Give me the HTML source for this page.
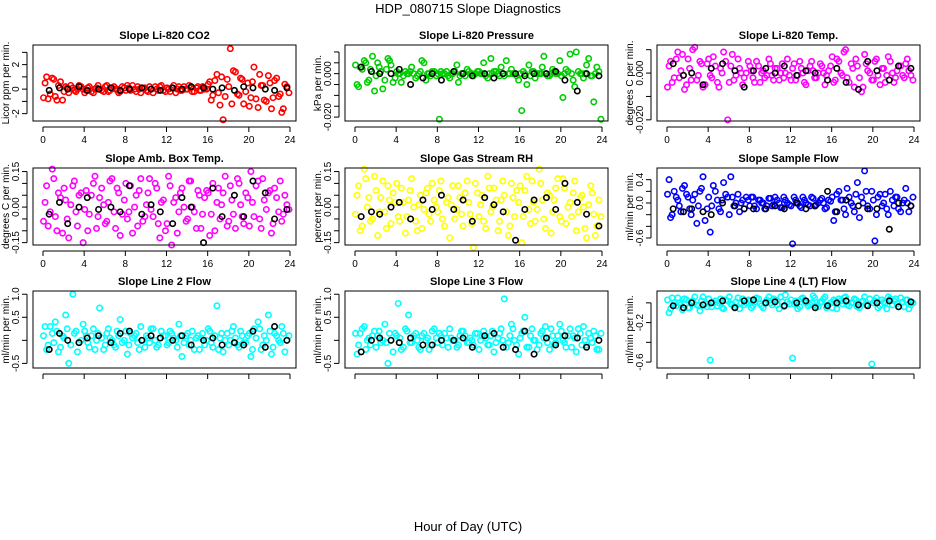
<!DOCTYPE html>
<html><head><meta charset="utf-8"><style>
body{margin:0;background:#fff;}
svg{display:block;font-family:"Liberation Sans",sans-serif;}
</style></head><body>
<svg id="chart" width="936" height="540" viewBox="0 0 936 540">
<text x="468" y="13" text-anchor="middle" font-size="13">HDP_080715  Slope Diagnostics</text>
<text x="468" y="531" text-anchor="middle" font-size="13">Hour of Day (UTC)</text>
</svg>
<script>
// shared timestamps (hours UTC)
const hoursC=[0.2,0.5,0.9,1.2,1.5,1.9,2.2,2.5,2.9,3.2,3.5,3.9,4.2,4.5,4.9,5.2,5.5,5.9,6.2,6.5,6.9,7.2,7.5,7.9,8.2,8.5,8.9,9.2,9.5,9.9,10.2,10.5,10.9,11.2,11.5,11.9,12.2,12.5,12.9,13.2,13.5,13.9,14.2,14.5,14.9,15.2,15.5,15.9,16.2,16.5,16.9,17.2,17.5,17.9,18.2,18.5,18.9,19.2,19.5,19.9,20.2,20.5,20.9,21.2,21.5,21.9,22.2,22.5,22.9,23.2,23.5,23.9];
const hoursC2=[0.05,0.35,0.7,1.05,1.35,1.7,2.05,2.35,2.7,3.05,3.35,3.7,4.05,4.35,4.7,5.05,5.35,5.7,6.05,6.35,6.7,7.05,7.35,7.7,8.05,8.35,8.7,9.05,9.35,9.7,10.05,10.35,10.7,11.05,11.35,11.7,12.05,12.35,12.7,13.05,13.35,13.7,14.05,14.35,14.7,15.05,15.35,15.7,16.05,16.35,16.7,17.05,17.35,17.7,18.05,18.35,18.7,19.05,19.35,19.7,20.05,20.35,20.7,21.05,21.35,21.7,22.05,22.35,22.7,23.05,23.35,23.7];
const hoursK=[0.6,1.6,2.4,3.5,4.3,5.4,6.6,7.5,8.4,9.6,10.5,11.4,12.6,13.5,14.4,15.6,16.5,17.4,18.6,19.5,20.4,21.6,22.5,23.7];
const xTicks=[0,4,8,12,16,20,24];
// series values (integer units; see unit per panel)
const co2C=[5,-8,9,-6,3,-9,2,-3,1,-2,3,0,-1,2,-3,1,0,-2,3,-1,2,0,-2,1,3,-1,0,2,-3,1,-2,0,2,-1,3,-2,0,1,-3,2,-1,0,3,-2,1,-1,2,0,6,-5,12,-13,-25,8,33,15,-4,9,-12,5,-7,18,-15,3,-9,11,-16,7,-6,-19,4,-3];
const co2C2=[-7,10,-4,8,-9,6,-2,1,3,-1,0,2,-3,1,-2,0,3,-1,2,-2,1,0,-3,2,-1,1,3,-2,0,1,-1,2,-3,0,2,-1,1,-2,3,0,-1,2,0,1,-2,2,-1,0,4,-9,7,-3,10,-6,2,-12,14,-5,8,-2,-14,6,-8,12,3,-10,5,-7,9,-4,-16,2];
const co2K=[-1,1,0,2,-1,0,1,-1,0,1,0,-1,1,0,2,1,0,1,-1,2,1,0,-1,1];
const presC=[-5,3,6,-4,2,-8,5,1,-3,7,4,-2,0,-4,1,0,3,-2,0,6,-3,0,1,-1,-21,0,1,-2,0,4,-1,0,2,0,-1,1,0,5,-2,7,1,0,3,-1,0,2,0,-3,-17,0,4,1,-2,0,3,0,-1,2,0,6,-11,2,9,-3,10,0,-2,4,-1,-13,3,-21];
const presC2=[4,-6,2,5,-3,8,-1,3,-7,2,6,-4,1,0,-1,0,1,0,-1,1,5,0,-1,1,0,1,0,-1,0,1,-4,0,-1,1,0,0,1,0,-1,0,0,1,-1,0,6,0,0,-1,0,1,-5,-1,1,0,0,8,-1,0,1,0,-1,0,1,0,-6,1,0,0,7,-1,0,1];
const presK=[3,1,0,0,2,-5,-2,0,-3,1,0,-1,0,-2,0,0,-1,0,0,1,-3,-8,0,-1];
const tempC=[3,-4,6,-2,8,-5,2,10,-3,5,-6,4,-1,7,-4,2,9,-20,3,-3,6,0,-2,5,1,-4,3,0,-2,6,-1,2,-3,4,0,-1,2,-3,5,0,-5,3,1,-2,4,0,-1,3,-4,6,0,9,-2,4,-6,3,-8,8,1,-3,5,-1,2,-4,7,0,-2,3,-1,4,1,-3];
const tempC2=[-6,5,-2,9,1,-7,6,-3,11,-1,4,-5,6,-2,3,-6,0,5,-4,8,-1,2,-5,0,3,-2,5,-4,1,-1,4,-3,2,0,-2,6,-3,4,-1,2,-4,1,5,-2,0,3,-5,1,7,-3,5,-1,10,-4,2,6,-2,-6,4,0,-3,6,-5,2,-1,5,-4,1,3,-2,6,-1];
const tempK=[4,-1,0,-5,2,4,1,-6,1,2,0,3,-1,1,0,-3,2,-4,-7,5,1,-3,3,2];
const ambC=[2,-8,16,-4,6,-11,3,-13,9,-2,5,-15,7,-3,10,-9,4,1,-6,11,-2,8,-12,3,-5,9,0,-8,12,-4,6,-1,10,-7,2,-10,13,-16,4,-2,8,-6,11,0,-9,5,-3,7,-12,10,2,-5,6,-8,9,-3,12,1,-7,4,15,-4,11,-9,3,6,-11,8,-2,-6,5,-1];
const ambC2=[-6,9,-2,12,-10,4,8,-5,1,11,-8,6,-1,-10,5,13,-4,8,-7,2,12,-9,6,-3,10,-2,-11,5,7,-6,1,12,-4,8,-13,3,-7,9,2,-11,6,0,-5,11,-2,7,-9,4,6,-3,-10,8,1,13,-6,3,-9,10,-4,6,-8,2,9,-5,12,-1,7,-7,4,11,-3,1];
const ambK=[-3,2,-7,0,4,-1,0,-2,9,-3,1,-2,-7,4,0,-15,8,-4,5,-4,11,6,-5,-1];
const rhC=[5,-10,16,0,-6,13,-12,4,-2,9,-7,2,-4,8,-11,3,12,-6,1,-9,6,-3,10,0,7,-5,2,-13,9,-1,4,-8,11,-3,-17,6,1,-6,13,-2,8,-10,3,5,-12,10,-4,2,-15,7,-1,11,-6,16,3,-9,5,-2,8,-4,12,-7,2,6,-10,4,0,-13,9,-3,-8,-4];
const rhC2=[-3,9,-8,12,4,-5,7,-2,11,-9,3,6,10,-6,2,-4,7,0,-10,5,-1,8,-6,3,-2,11,-8,4,1,-5,9,-3,6,2,-7,10,-4,5,-9,8,0,3,-6,11,-2,-8,4,7,9,-4,13,-7,2,-1,10,-5,6,-11,3,12,-6,8,0,-4,11,-2,5,-9,1,6,-12,3];
const rhK=[-4,-2,-3,0,2,-5,3,-1,5,-1,3,-6,4,1,-2,-14,-1,3,4,-1,10,2,-3,-8];
const flowC=[40,-20,10,-5,25,15,-10,5,-35,20,45,-10,-50,30,5,-15,35,10,45,-5,15,0,-10,5,10,-5,5,0,-10,8,-5,10,0,-8,5,-3,-70,5,-5,10,0,-5,8,-3,5,0,-8,3,-30,15,5,-10,25,0,-15,35,10,55,-5,20,-65,10,-5,15,-20,5,10,-10,0,25,-15,10];
const flowC2=[15,-25,20,5,-15,30,10,-20,15,-5,25,-30,10,-5,20,-10,5,15,-20,10,0,-15,5,10,-5,10,-10,5,0,-5,8,-3,5,-8,10,0,-5,10,0,-8,5,-3,10,-5,0,8,-10,5,10,-15,20,5,-20,10,-5,15,-25,0,20,-10,5,-20,15,0,-10,20,-5,10,-15,5,0,-5];
const flowK=[-10,-15,-10,-15,-20,0,-5,-10,-10,-10,-5,-10,0,-10,-5,20,-15,5,-5,-10,-10,-45,0,-5];
const l2C=[30,-10,15,40,-25,10,55,-50,100,20,-5,35,10,-15,25,0,70,-20,15,5,-10,20,45,0,-30,15,10,-5,30,-15,5,25,0,-10,20,10,-5,15,0,35,-35,10,-10,20,5,-20,15,0,20,-15,75,5,-25,15,0,30,-10,20,-5,10,-35,25,40,-20,10,55,-30,15,0,30,-25,10];
const l2C2=[10,-20,30,-5,20,-15,5,25,-10,15,-25,0,20,-5,10,-20,15,5,-10,25,0,-15,10,-5,20,-10,5,15,-20,0,10,-5,25,-15,5,10,-10,20,5,-15,10,-5,15,0,-20,10,5,-10,25,-5,10,-20,15,0,-10,20,5,-15,10,-5,15,-20,5,25,-10,0,20,-15,10,-5,15,0];
const l2K=[-20,15,0,-5,5,10,-5,15,20,0,10,5,0,10,-10,0,5,-10,-5,-10,20,-15,30,0];
const l3C=[-30,15,30,0,-10,20,10,-5,35,-50,0,15,80,-20,25,55,-5,15,-15,10,0,-20,20,5,15,-10,5,25,0,-15,10,20,-5,5,-10,15,0,20,-10,10,-25,5,25,90,-5,35,0,-30,15,50,-15,25,0,-10,20,30,-20,10,-5,35,0,-15,25,10,-25,15,30,-10,5,20,-20,15];
const l3C2=[15,-10,25,-20,5,10,-15,20,0,-5,15,-25,10,5,-15,20,-5,10,0,-20,15,5,-10,25,-5,10,15,-15,5,0,-10,20,10,-5,0,15,-20,10,5,-10,20,-5,15,0,-15,10,25,-10,5,20,-15,10,0,-20,15,5,-5,25,-10,10,20,-5,10,-15,5,25,-10,0,15,-5,10,-20];
const l3K=[-25,0,5,0,-5,5,-10,-10,0,0,5,-15,10,15,-15,-20,20,-30,5,-10,10,5,-15,0];
const l4C=[-10,5,-3,0,-7,3,-5,2,-2,-8,6,-4,-58,0,-3,4,-6,2,-1,-4,5,0,-2,3,-5,1,4,-3,0,6,-2,3,-6,1,8,-1,-56,2,-4,5,0,-2,7,-3,1,4,-5,0,3,-6,2,5,-2,0,4,-4,1,6,-3,-62,2,-5,3,0,6,-2,4,-4,1,3,-6,0];
const l4C2=[3,-6,0,5,-2,4,-5,1,6,-3,2,-1,4,-4,2,0,-5,3,6,-2,1,-6,4,0,2,-3,5,-1,-5,3,0,4,-2,6,-4,1,3,-1,-6,4,2,-3,0,5,-4,1,6,-2,-5,2,4,-1,6,-3,0,3,-5,2,-2,4,0,5,-3,1,-6,4,2,-1,5,-4,3,-2];
const l4K=[-3,-5,0,-2,0,2,-5,2,3,0,1,-3,0,2,-5,-3,0,2,-2,-3,0,2,-4,1];
// y tick values and labels per panel
const ticksP1=[-2,-1,0,1,2,3], labsP1=["-2","","0","","2",""];
const ticksP2=[-0.02,-0.015,-0.01,-0.005,0,0.005,0.01], labsP2=["-0.020","","","","0.000","",""];
const ticksP3=[-0.02,-0.01,0,0.01], labsP3=["-0.020","","0.000",""];
const ticksP4=[-0.15,-0.1,-0.05,0,0.05,0.1,0.15], labsP4=["-0.15","","","0.00","","","0.15"];
const ticksP6=[-0.6,-0.4,-0.2,0,0.2,0.4], labsP6=["-0.6","","","0.0","","0.4"];
const ticksP7=[-0.5,0,0.5,1.0], labsP7=["-0.5","","0.5","1.0"];
const ticksP9=[-0.6,-0.4,-0.2,0], labsP9=["-0.6","","-0.2",""];

const NS="http://www.w3.org/2000/svg";
const svg=document.getElementById('chart');
function mk(t,a,p){const e=document.createElementNS(NS,t);for(const k in a)e.setAttribute(k,a[k]);(p||svg).appendChild(e);return e;}

const cols=[{bx:33,bw:263,x0:43,x24:290},{bx:345,bw:263,x0:355,x24:602},{bx:657,bw:263,x0:667,x24:914}];
const rows=[{by:45,bh:76},{by:168,bh:77},{by:291,bh:77}];
const panels=[
 {name:"co2",title:"Slope Li-820 CO2",yl:"Licor ppm per min.",col:"#ff0000",c:co2C,c2:co2C2,k:co2K,unit:0.1,ymin:-2.6,ymax:3.6,t:ticksP1,l:labsP1},
 {name:"pressure",title:"Slope Li-820 Pressure",yl:"kPa per min.",col:"#00cd00",c:presC,c2:presC2,k:presK,unit:0.001,ymin:-0.0218,ymax:0.0132,t:ticksP2,l:labsP2},
 {name:"li820-temp",title:"Slope Li-820 Temp.",yl:"degrees C per min.",col:"#ff00ff",c:tempC,c2:tempC2,k:tempK,unit:0.001,ymin:-0.0205,ymax:0.012,t:ticksP3,l:labsP3},
 {name:"amb-box-temp",title:"Slope Amb. Box Temp.",yl:"degrees C per min.",col:"#ff00ff",c:ambC,c2:ambC2,k:ambK,unit:0.01,ymin:-0.16,ymax:0.165,t:ticksP4,l:labsP4},
 {name:"gas-stream-rh",title:"Slope Gas Stream RH",yl:"percent per min.",col:"#ffff00",c:rhC,c2:rhC2,k:rhK,unit:0.01,ymin:-0.16,ymax:0.165,t:ticksP4,l:labsP4},
 {name:"sample-flow",title:"Slope Sample Flow",yl:"ml/min per min.",col:"#0000ff",c:flowC,c2:flowC2,k:flowK,unit:0.01,ymin:-0.72,ymax:0.6,t:ticksP6,l:labsP6},
 {name:"line2-flow",title:"Slope Line 2 Flow",yl:"ml/min per min.",col:"#00ffff",c:l2C,c2:l2C2,k:l2K,unit:0.01,ymin:-0.6,ymax:1.07,t:ticksP7,l:labsP7},
 {name:"line3-flow",title:"Slope Line 3 Flow",yl:"ml/min per min.",col:"#00ffff",c:l3C,c2:l3C2,k:l3K,unit:0.01,ymin:-0.6,ymax:1.07,t:ticksP7,l:labsP7},
 {name:"line4-flow",title:"Slope Line 4 (LT) Flow",yl:"ml/min per min.",col:"#00ffff",c:l4C,c2:l4C2,k:l4K,unit:0.01,ymin:-0.66,ymax:0.12,t:ticksP9,l:labsP9}
];

panels.forEach((p,i)=>{
  const C=cols[i%3],R=rows[Math.floor(i/3)];
  const g=mk('g',{});
  
  
  const xs=h=>C.x0+(C.x24-C.x0)*h/24;
  const ys=v=>R.by+R.bh-(v-p.ymin)/(p.ymax-p.ymin)*R.bh;
  const t=mk('text',{x:C.bx+C.bw/2,y:R.by-6,'text-anchor':'middle','font-size':11,'font-weight':'bold'},g);
  t.textContent=p.title;
  
  
  const pg=mk('g',{fill:'none','stroke-width':1.6},g);
  
  
  hoursC.forEach((h,j)=>{const c=mk('circle',{cx:xs(h),cy:ys(p.c[j]*p.unit),r:2.7,stroke:p.col},pg);
    
    });
  hoursC2.forEach((h,j)=>{const c=mk('circle',{cx:xs(h),cy:ys(p.c2[j]*p.unit),r:2.7,stroke:p.col},pg);
    
    });
  hoursK.forEach((h,j)=>{const c=mk('circle',{cx:xs(h),cy:ys(p.k[j]*p.unit),r:2.7,stroke:'#000'},pg);
    
    });
  const box=mk('rect',{x:C.bx,y:R.by,width:C.bw,height:R.bh,fill:'none',stroke:'#000','stroke-width':1},g);
  
  
  const xa=mk('g',{},g);
  
  
  const yb=R.by+R.bh;
  mk('line',{x1:xs(0),x2:xs(24),y1:yb+6,y2:yb+6,stroke:'#000'},xa);
  xTicks.forEach(v=>{mk('line',{x1:xs(v),x2:xs(v),y1:yb+6,y2:yb+11,stroke:'#000'},xa);
    if(i<6){const tx=mk('text',{x:xs(v),y:yb+22,'text-anchor':'middle','font-size':10},xa);tx.textContent=v;
      
      }});
  const ya=mk('g',{},g);
  
  
  const xl=C.bx-6;
  mk('line',{x1:xl,x2:xl,y1:ys(p.t[0]),y2:ys(p.t[p.t.length-1]),stroke:'#000'},ya);
  p.t.forEach((v,j)=>{const y=ys(v);mk('line',{x1:xl-5,x2:xl,y1:y,y2:y,stroke:'#000'},ya);
    if(p.l[j]){const tx=mk('text',{x:xl-8,y:y,'text-anchor':'middle','font-size':10,transform:`rotate(-90 ${xl-8} ${y})`},ya);tx.textContent=p.l[j];
      
      }});
  const yt=mk('text',{x:C.bx-24,y:R.by+R.bh/2,'text-anchor':'middle','font-size':10,transform:`rotate(-90 ${C.bx-24} ${R.by+R.bh/2})`},g);
  yt.textContent=p.yl;
  
  
});
</script>
</body></html>
